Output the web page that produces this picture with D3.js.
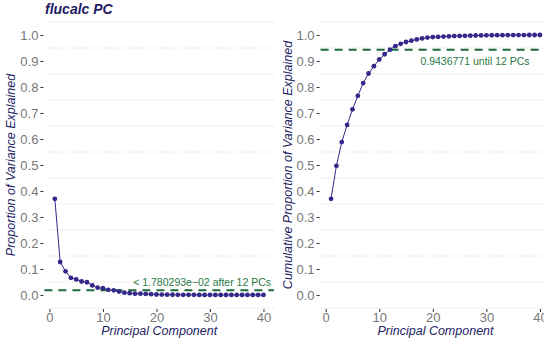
<!DOCTYPE html>
<html>
<head>
<meta charset="utf-8">
<script src="https://cdn.jsdelivr.net/npm/d3@7"></script>
<style>
  body { margin: 0; background: #fff; }
  svg text { font-family: "Liberation Sans", Arial, sans-serif; }
  .axis path.domain { display: none; }
  .axis line { stroke: #333; }
  .axis text { fill: #777; font-size: 13px; font-family: "Liberation Sans", Arial, sans-serif; }
</style>
</head>
<body>
<div id="chart"></div>
<script>
// principal components 1..40
const components = d3.range(1, 41);

// proportion of variance explained by each PC
const propValues = [0.370, 0.127, 0.091, 0.066, 0.060, 0.052, 0.049, 0.037, 0.028, 0.026,
                    0.0199, 0.0178, 0.013, 0.009, 0.007, 0.005, 0.005, 0.004, 0.003, 0.002,
                    0.0015, 0.0012, 0.001, 0.0008, 0.0007, 0.0006, 0.0005, 0.0004, 0.0004, 0.0003,
                    0.0003, 0.0002, 0.0002, 0.0002, 0.0001, 0.0001, 0.0001, 0.0001, 0.0001, 0.0001];

// cumulative proportion
const cumValues = [0.370, 0.497, 0.588, 0.654, 0.714, 0.766, 0.815, 0.852, 0.880, 0.906,
                   0.926, 0.9437, 0.957, 0.966, 0.973, 0.978, 0.983, 0.987, 0.990, 0.992,
                   0.993, 0.994, 0.995, 0.996, 0.9965, 0.997, 0.9975, 0.998, 0.9984, 0.9987,
                   0.999, 0.9992, 0.9994, 0.9996, 0.9997, 0.9998, 0.9999, 0.99995, 1.0, 1.0];

const xTicks = [0, 10, 20, 30, 40];
const yTicks = [0, 0.1, 0.2, 0.3, 0.4, 0.5, 0.6, 0.7, 0.8, 0.9, 1.0];
const propCutoff = 0.01780293;
const cumCutoff = 0.9436771;
const propLabel = "< 1.780293e\u221202 after 12 PCs";
const cumLabel = "0.9436771 until 12 PCs";

const W = 544, H = 344;
const navy = "#231c63", pointCol = "#34288a", green = "#1b6b3a";

const svg = d3.select("#chart").append("svg")
    .attr("width", W).attr("height", H);

svg.append("text")
    .attr("x", 45).attr("y", 14)
    .style("font-size", "14px").style("font-weight", "bold").style("font-style", "italic")
    .style("fill", navy)
    .text("flucalc PC");

function drawPanel(x0, x1, values, yTitle, cutoff, label, labelPos) {
    const x = d3.scaleLinear().domain([-0.95, 41.95]).range([x0, x1]);
    const y = d3.scaleLinear().domain([-0.05, 1.05]).range([308, 22]);
    const g = svg.append("g");

    // dotted grid at half-steps
    g.selectAll(".grid")
        .data(d3.range(-0.05, 1.1, 0.1))
        .enter().append("line")
        .attr("x1", x0).attr("x2", x1)
        .attr("y1", d => y(d)).attr("y2", d => y(d))
        .attr("stroke", "#d6d6d6").attr("stroke-width", 0.8)
        .attr("stroke-dasharray", "1.5,2");

    g.append("g").attr("class", "axis")
        .attr("transform", `translate(${x0 - 1},0)`)
        .call(d3.axisLeft(y).tickValues(yTicks).tickFormat(d3.format(".1f")).tickSize(3).tickPadding(2));

    g.append("g").attr("class", "axis")
        .attr("transform", "translate(0,309)")
        .call(d3.axisBottom(x).tickValues(xTicks).tickSize(3).tickPadding(1));

    g.append("text")
        .attr("x", (x0 + x1) / 2).attr("y", 335)
        .attr("text-anchor", "middle")
        .style("font-size", "12.5px").style("font-style", "italic").style("fill", navy)
        .text("Principal Component");

    g.append("text")
        .attr("transform", `translate(${x0 - 29},${(22 + 308) / 2}) rotate(-90)`)
        .attr("text-anchor", "middle")
        .style("font-size", "12.5px").style("font-style", "italic").style("fill", navy)
        .text(yTitle);

    g.append("line")
        .attr("x1", x0).attr("x2", x1)
        .attr("y1", y(cutoff)).attr("y2", y(cutoff))
        .attr("stroke", green).attr("stroke-width", 2)
        .attr("stroke-dasharray", "8,6");

    g.append("text")
        .attr("x", labelPos.x).attr("y", labelPos.y)
        .attr("text-anchor", labelPos.anchor)
        .style("font-size", "10.5px").style("fill", "#2a7a45")
        .text(label);

    const pts = components.map((c, i) => ({ c: c, v: values[i] }));

    g.append("path")
        .datum(pts)
        .attr("fill", "none").attr("stroke", pointCol).attr("stroke-width", 1)
        .attr("d", d3.line().x(d => x(d.c)).y(d => y(d.v)));

    g.selectAll(".pt")
        .data(pts)
        .enter().append("circle")
        .attr("cx", d => x(d.c)).attr("cy", d => y(d.v))
        .attr("r", 2.4).attr("fill", pointCol);
}

drawPanel(44.4, 273.9, propValues, "Proportion of Variance Explained",
          propCutoff, propLabel, { x: 271, y: 286, anchor: "end" });
drawPanel(320.6, 550.4, cumValues, "Cumulative Proportion of Variance Explained",
          cumCutoff, cumLabel, { x: 475, y: 65, anchor: "middle" });
</script>
</body>
</html>
